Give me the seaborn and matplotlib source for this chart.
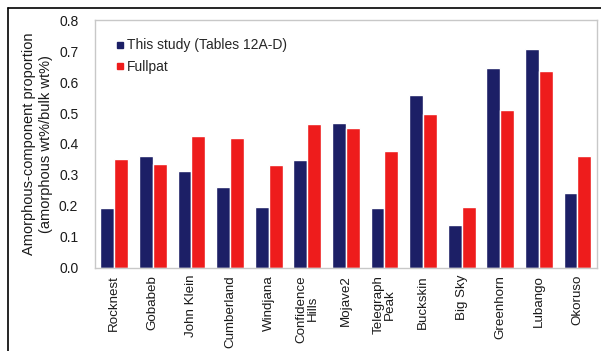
import matplotlib
matplotlib.use("Agg")
import matplotlib.pyplot as plt
from matplotlib.lines import Line2D
import seaborn as sns
import pandas as pd

sites = ["Rocknest", "Gobabeb", "John Klein", "Cumberland", "Windjana",
         "Confidence\nHills", "Mojave2", "Telegraph\nPeak", "Buckskin",
         "Big Sky", "Greenhorn", "Lubango", "Okoruso"]
this_study = [0.195, 0.362, 0.312, 0.260, 0.197, 0.347, 0.468, 0.192, 0.557,
              0.138, 0.645, 0.708, 0.243]
fullpat = [0.352, 0.337, 0.425, 0.418, 0.331, 0.466, 0.453, 0.378, 0.496,
           0.197, 0.511, 0.636, 0.362]
series_names = ["This study (Tables 12A-D)", "Fullpat"]
colors = ["#1c1f66", "#ee1c1c"]

df = pd.DataFrame({
    "site": sites * 2,
    "value": this_study + fullpat,
    "series": [series_names[0]] * len(sites) + [series_names[1]] * len(sites),
})

sns.set_theme(style="white")
plt.rcParams["font.family"] = ["Liberation Sans", "DejaVu Sans"]

fig = plt.figure(figsize=(6.01, 3.51), dpi=100)
ax = fig.add_axes([0.158, 0.2365, 0.835, 0.7065])

sns.barplot(data=df, x="site", y="value", hue="series", palette=colors,
            width=0.72, saturation=1, gap=0, ax=ax, legend=False)

ax.set_ylim(0, 0.8)
ax.set_xlim(-0.5, len(sites) - 0.5)
ax.set_yticks([i / 10 for i in range(9)])
ax.set_yticklabels([f"{i / 10:.1f}" for i in range(9)], fontsize=10, color="#1a1a1a")
ax.set_xticks(range(len(sites)))
ax.set_xticklabels(sites, rotation=90, fontsize=9.6, color="#1a1a1a",
                   linespacing=0.95)
ax.tick_params(axis="y", length=0, pad=12)
ax.tick_params(axis="x", length=0, pad=5)
ax.set_xlabel("")
ax.set_ylabel("Amorphous-component proportion\n(amorphous wt%/bulk wt%)",
              fontsize=10.5, color="#1a1a1a", linespacing=1.35, labelpad=4)

for s in ax.spines.values():
    s.set_color("#c8c8c8")
    s.set_linewidth(1.0)

handles = [Line2D([0], [0], marker="s", linestyle="none", markersize=4.5,
                  markerfacecolor=c, markeredgecolor=c) for c in colors]
ax.legend(handles, series_names, loc="upper left", frameon=False,
          fontsize=10, handletextpad=0.1, handlelength=0.8,
          borderaxespad=0.3, labelspacing=0.55, bbox_to_anchor=(0.02, 0.965))

# border lines along the top and left of the figure
fig.add_artist(Line2D([8 / 601, 1], [1 - 8 / 351, 1 - 8 / 351],
                      color="black", linewidth=1.2, transform=fig.transFigure))
fig.add_artist(Line2D([8 / 601, 8 / 601], [0, 1 - 8 / 351],
                      color="black", linewidth=1.2, transform=fig.transFigure))

fig.savefig("out.png", dpi=100)
